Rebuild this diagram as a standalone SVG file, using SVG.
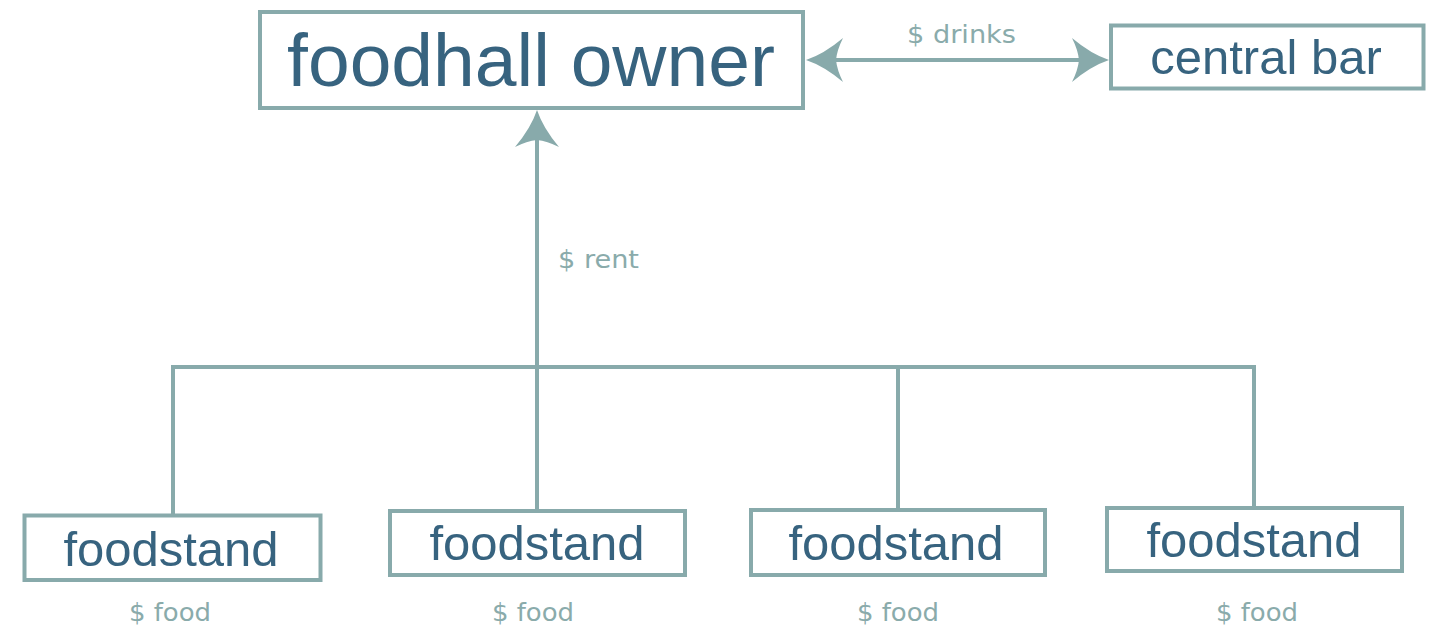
<svg xmlns="http://www.w3.org/2000/svg" width="1443" height="634" viewBox="0 0 1443 634">
<defs>
<style>
.box{fill:#ffffff;stroke:#88aaab;stroke-width:4}
.main{font-family:"Liberation Sans",Arial,sans-serif;fill:#37637f;text-anchor:middle}
.lbl{font-family:"DejaVu Sans",Verdana,sans-serif;font-size:24px;fill:#8aabab}
.con{fill:none;stroke:#88aaab;stroke-width:4;stroke-linejoin:miter}
</style>
<marker id="ah" markerUnits="userSpaceOnUse" viewBox="-8 -23 40 46" markerWidth="40" markerHeight="46" refX="0" refY="0" orient="auto-start-reverse" overflow="visible">
<path d="M30,0 Q12,-6 -7,-22 Q-1,-10 0,0 Q-1,10 -7,22 Q12,6 30,0 Z" fill="#88aaab"/>
</marker>
</defs>
<rect width="1443" height="634" fill="#ffffff"/>
<g id="connectors">
<path class="con" d="M836,60 H1079" marker-start="url(#ah)" marker-end="url(#ah)"/>
<path class="con" d="M537,511 V140" marker-end="url(#ah)"/>
<path class="con" d="M173,515 V367 H1254 V508"/>
<path class="con" d="M898,367 V510"/>
<text class="lbl" x="907" y="43" textLength="109" lengthAdjust="spacingAndGlyphs">$ drinks</text>
<text class="lbl" x="558" y="268" textLength="81" lengthAdjust="spacingAndGlyphs">$ rent</text>
</g>
<g id="foodhall-owner">
<rect class="box" x="260" y="12" width="543" height="96"/>
<text class="main" x="531" y="86" font-size="75">foodhall owner</text>
</g>
<g id="central-bar">
<rect class="box" x="1111" y="25.5" width="312.5" height="63"/>
<text class="main" x="1266" y="74" font-size="49">central bar</text>
</g>
<g id="foodstand-1">
<rect class="box" x="24.5" y="515.5" width="296" height="64.5"/>
<text class="main" x="171" y="566" font-size="49">foodstand</text>
<text class="lbl" x="129" y="621" textLength="82" lengthAdjust="spacingAndGlyphs">$ food</text>
</g>
<g id="foodstand-2">
<rect class="box" x="390" y="511" width="295" height="64"/>
<text class="main" x="537" y="560" font-size="49">foodstand</text>
<text class="lbl" x="492" y="621" textLength="82" lengthAdjust="spacingAndGlyphs">$ food</text>
</g>
<g id="foodstand-3">
<rect class="box" x="751" y="510" width="294" height="65"/>
<text class="main" x="896" y="560" font-size="49">foodstand</text>
<text class="lbl" x="857" y="621" textLength="82" lengthAdjust="spacingAndGlyphs">$ food</text>
</g>
<g id="foodstand-4">
<rect class="box" x="1107" y="508" width="295" height="63"/>
<text class="main" x="1254" y="557" font-size="49">foodstand</text>
<text class="lbl" x="1216" y="621" textLength="82" lengthAdjust="spacingAndGlyphs">$ food</text>
</g>
</svg>
